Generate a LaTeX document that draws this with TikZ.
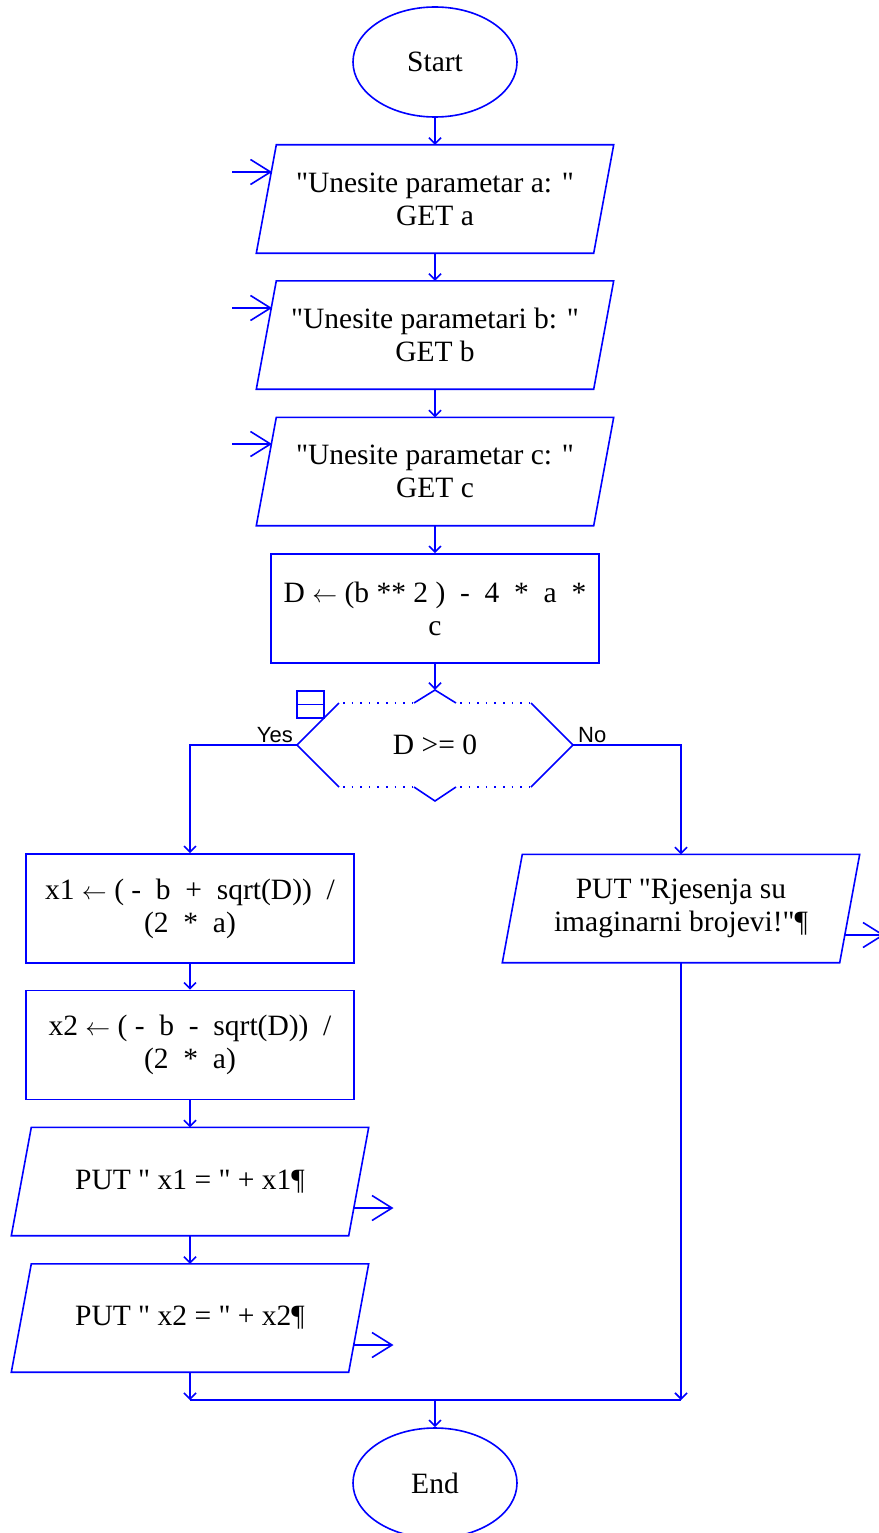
\documentclass[tikz,border=0pt]{standalone}
\usepackage{fontspec}
\setmainfont{Liberation Serif}[Ligatures=TeXOff]
\newfontfamily\labelfont{Liberation Sans}
\usetikzlibrary{shapes.geometric,arrows.meta,calc}
\newcommand\drawpara[1]{\draw[bl] ([xshift=10pt]#1.north west) -- ([xshift=10pt]#1.north east) -- ([xshift=-10pt]#1.south east) -- ([xshift=-10pt]#1.south west) -- cycle;}
\newcommand\larr{$\leftarrow$}
\begin{document}
\begin{tikzpicture}[x=1pt,y=-1pt,
  bl/.style={draw=blue, line width=1.6pt},
  flow/.style={bl, -{Straight Barb[length=6pt,width=12pt]}},
  ioarrow/.style={bl, -{Straight Barb[length=20pt,width=25pt]}},
  txt/.style={font=\fontsize{29.5}{33}\selectfont, align=center, text=black, inner sep=0pt},
  term/.style={ellipse, bl, minimum width=164pt, minimum height=110pt, txt},
  procbox/.style={rectangle, bl, minimum width=328pt, minimum height=109pt, txt},
  iobox/.style={rectangle, minimum width=337pt, minimum height=108pt, txt},
  decbox/.style={rectangle, minimum width=276pt, minimum height=110pt, txt},
  lbl/.style={font=\labelfont\fontsize{22}{24}\selectfont, inner sep=0pt, text=black},
]
\useasboundingbox (0,0) rectangle (878,1533);

% nodes
\node[term] (start) at (435,62) {Start};
\node[iobox] (in1) at (435,199) {"Unesite parametar a: "\\GET a};
\node[iobox] (in2) at (435,335) {"Unesite parametari b: "\\GET b};
\node[iobox] (in3) at (435,471.5) {"Unesite parametar c: "\\GET c};
\node[procbox] (calc) at (435,608.5) {D \larr\ (b ** 2 )~ -~ 4~ *~ a~ *\\c};
\node[decbox] (dec) at (435,745) {D >= 0};
\node[procbox] (x1) at (190,908.5) {x1 \larr\ ( -~ b~ +~ sqrt(D))~ /\\(2~ *~ a)};
\node[procbox] (x2) at (190,1045) {x2 \larr\ ( -~ b~ -~ sqrt(D))~ /\\(2~ *~ a)};
\node[iobox] (out1) at (190,1181.5) {PUT " x1 = " + x1¶};
\node[iobox] (out2) at (190,1318) {PUT " x2 = " + x2¶};
\node[iobox] (out3) at (681,908.5) {PUT "Rjesenja su\\imaginarni brojevi!"¶};
\node[term] (end) at (435,1483) {End};

% parallelogram outlines
\drawpara{in1}
\drawpara{in2}
\drawpara{in3}
\drawpara{out1}
\drawpara{out2}
\drawpara{out3}

% decision outline
\draw[bl] (339,703) -- (297,745) -- (339,787);
\draw[bl] (531,703) -- (573,745) -- (531,787);
\draw[bl] (414,703) -- (435,690) -- (456,703);
\draw[bl] (414,787) -- (435,801) -- (456,787);
\draw[bl, dash pattern=on 1.6pt off 7pt] (343,703) -- (414,703) (460,703) -- (531,703)
  (343,787) -- (414,787) (460,787) -- (531,787);
\draw[bl] (297,691) rectangle (324,718);
\draw[bl] (297,704.5) -- (324,704.5);

% labels
\node[lbl, anchor=base east] (yes) at (293,742) {Yes};
\node[lbl, anchor=base west] (no) at (578,742) {No};

% main connectors
\draw[flow] (start.south) -- (in1.north);
\draw[flow] (in1.south) -- (in2.north);
\draw[flow] (in2.south) -- (in3.north);
\draw[flow] (in3.south) -- (calc.north);
\draw[flow] (calc.south) -- (dec.north);
\draw[flow] (dec.west) -| (x1.north);
\draw[flow] (dec.east) -| (out3.north);
\draw[flow] (x1.south) -- (x2.north);
\draw[flow] (x2.south) -- (out1.north);
\draw[flow] (out1.south) -- (out2.north);

\coordinate (mL) at (190,1400);
\coordinate (mR) at (681,1400);
\coordinate (mC) at (435,1400);
\draw[flow] (out2.south) -- (mL);
\draw[flow] (out3.south) -- (mR);
\draw[bl] (mL) -- (mR);
\draw[flow] (mC) -- (end.north);

% input / output arrows
\coordinate (i1s) at (232,172); \coordinate (i1t) at (272,172);
\coordinate (i2s) at (232,308); \coordinate (i2t) at (272,308);
\coordinate (i3s) at (232,444); \coordinate (i3t) at (272,444);
\draw[ioarrow] (i1s) -- (i1t);
\draw[ioarrow] (i2s) -- (i2t);
\draw[ioarrow] (i3s) -- (i3t);
\coordinate (o1s) at (353.5,1208); \coordinate (o1t) at (393.5,1208);
\coordinate (o2s) at (353.5,1345); \coordinate (o2t) at (393.5,1345);
\coordinate (o3s) at (844.5,935); \coordinate (o3t) at (884.5,935);
\draw[ioarrow] (o1s) -- (o1t);
\draw[ioarrow] (o2s) -- (o2t);
\draw[ioarrow] (o3s) -- (o3t);
\end{tikzpicture}
\end{document}
